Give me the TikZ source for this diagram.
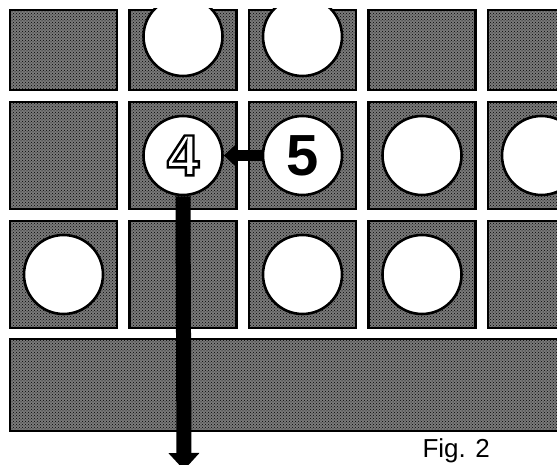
\documentclass[tikz,border=0pt]{standalone}
\usepackage{fontspec}
\setmainfont{Liberation Sans}
\usetikzlibrary{arrows.meta,patterns}

% outlined (hollow) digits
\newcommand{\hollow}[1]{\special{pdf:literal direct 1 Tr 2.4 w}#1\special{pdf:literal direct 0 Tr}}

\begin{document}
\begin{tikzpicture}[x=1pt, y=-1pt,
  cell/.style={draw=black, line width=2.8pt, fill=black!52,
    postaction={pattern=crosshatch dots, pattern color=black}},
  hole/.style={circle, draw=black, line width=2.6pt, fill=white, minimum size=79pt,
    inner sep=0pt, font=\fontsize{58}{58}\selectfont\bfseries}]
  \clip (0,0) rectangle (557,465);
  % top row, cut at the upper edge
  \foreach \c in {1,...,5}{
    \draw[cell] ({10+119.5*(\c-1)},10) rectangle ++(107,80);
  }
  \foreach \c in {2,3}{
    \begin{scope}
      \clip ({10+119.5*(\c-1)},8.5) rectangle ++(107,82);
      \node[hole] (c1\c) at ({63.5+119.5*(\c-1)},36.5) {};
    \end{scope}
  }
  % rows 2 and 3
  \foreach \r in {2,3}
    \foreach \c in {1,...,5}
      \draw[cell] ({10+119.5*(\c-1)},{-17+119*(\r-1)}) rectangle ++(107,107);
  \foreach \r/\c in {2/4,2/5,3/1,3/3,3/4}
    \node[hole] (c\r\c) at ({63.5+119.5*(\c-1)},{36.5+119*(\r-1)}) {};
  \node[hole] (c22) at (183,155.5) {\hollow{4}};
  \node[hole] (c23) at (302.5,155.5) {5};
  % bottom bar
  \draw[cell] (10,339) rectangle (600,431);
  % arrows
  \draw[line width=11pt, -{Triangle[width=25pt,length=14pt]}] (c23.west) -- (c22.east);
  \coordinate (out) at (184,470);
  \draw[line width=15pt, -{Triangle[width=30pt,length=17pt]}] (c22.south) -- (out);
  \node[anchor=base west, font=\fontsize{26}{26}\selectfont] (fig) at (419,457) {Fig. 2};
\end{tikzpicture}
\end{document}
